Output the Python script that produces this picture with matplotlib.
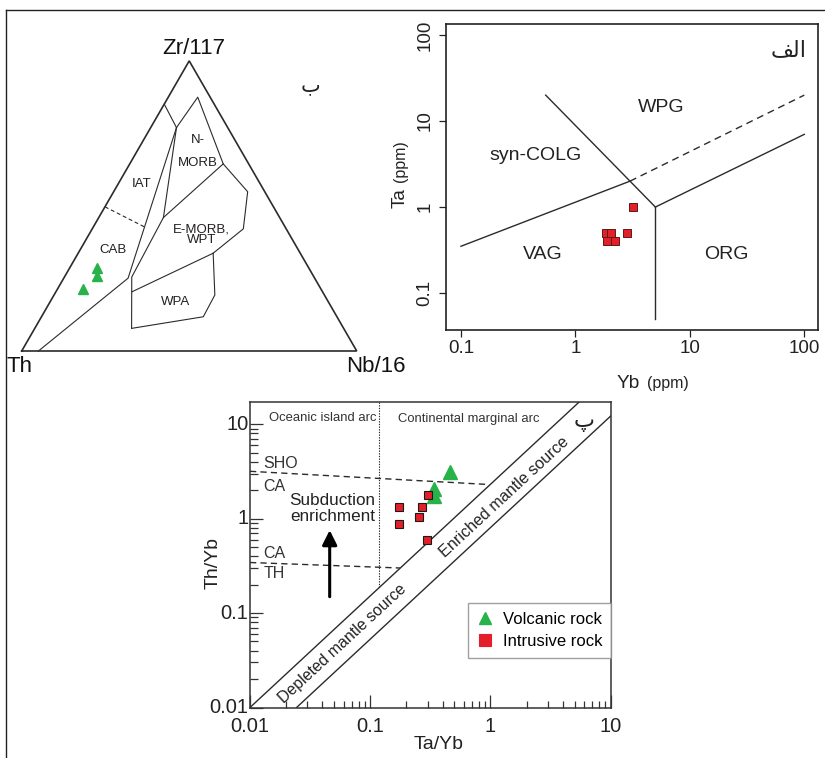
import matplotlib
matplotlib.use('Agg')
import matplotlib.pyplot as plt
import numpy as np
from matplotlib.lines import Line2D
from matplotlib.ticker import NullFormatter, NullLocator, FixedLocator

plt.rcParams['font.family'] = ['Liberation Sans', 'DejaVu Sans']

# ------------------------------------------------------------------ data
# (a) Pearce et al. Ta vs Yb discrimination (intrusive rocks)
yb_intrusive = [1.85, 2.05, 1.9, 2.24, 2.8, 3.18]
ta_intrusive = [0.5, 0.5, 0.4, 0.4, 0.5, 1.0]
pearce_solid_x = [[0.1, 3], [0.55, 5], [5, 100], [5, 5]]
pearce_solid_y = [[0.35, 2], [20, 1], [1, 7], [1, 0.05]]
pearce_dash_x = [3, 100]
pearce_dash_y = [2, 20]
pearce_ticks = [0.1, 1, 10, 100]
pearce_ticklabels = ['0.1', '1', '10', '100']

# (b) Th - Zr/117 - Nb/16 ternary (Wood 1980), vertices as (Th, Zr, Nb)
tern_vertices = {
    'A': (0.149, 0.851, 0.000), 'J': (0.153, 0.770, 0.077),
    'P': (0.037, 0.875, 0.088), 'Q': (0.076, 0.645, 0.279),
    'R': (0.051, 0.549, 0.400), 'S': (0.128, 0.421, 0.451),
    'T': (0.260, 0.337, 0.403), 'U': (0.347, 0.460, 0.193),
    'V': (0.544, 0.255, 0.201), 'W': (0.569, 0.204, 0.227),
    'X': (0.633, 0.078, 0.289), 'Y': (0.399, 0.118, 0.483),
    'Z': (0.327, 0.193, 0.480), 'D1': (0.557, 0.251, 0.192),
    'D0': (0.950, 0.000, 0.050), 'L': (0.503, 0.497, 0.000),
    'M': (0.415, 0.424, 0.161),
}
tern_solid_paths = [['A', 'J'], ['D0', 'D1', 'J'], ['J', 'P', 'Q', 'R', 'S', 'T'],
                    ['J', 'U', 'V', 'X'], ['Q', 'U'], ['W', 'T'], ['T', 'Z', 'Y', 'X']]
tern_dash_paths = [['L', 'M']]
tern_th = [0.633, 0.644, 0.710]
tern_zr = [0.286, 0.260, 0.213]
tern_nb = [0.081, 0.096, 0.077]

# (c) Th/Yb vs Ta/Yb
tayb_volc = [0.46, 0.336, 0.336]
thyb_volc = [3.08, 2.05, 1.73]
tayb_intr = [0.304, 0.173, 0.27, 0.253, 0.173, 0.294]
thyb_intr = [1.77, 1.32, 1.33, 1.04, 0.87, 0.59]
array_upper_x = [0.01, 5.5]
array_upper_y = [0.01, 17.3]
array_lower_x = [0.0244, 10]
array_lower_y = [0.01, 12.2]
sho_ca_x = [0.01, 0.95]
sho_ca_y = [3.17, 2.3]
ca_th_x = [0.01, 0.177]
ca_th_y = [0.343, 0.3]
arc_div_x = [0.118, 0.118]
arc_div_y = [17.3, 0.19]
c_ticks = [0.01, 0.1, 1, 10]
c_ticklabels = ['0.01', '0.1', '1', '10']

GREEN = '#27b24a'
RED = '#e3202a'
LINE = '#2b2b2b'

W, H = 825, 758
fig = plt.figure(figsize=(W / 100, H / 100), dpi=100)

# outer frame lines
fig.add_artist(Line2D([6 / W, 1], [1 - 10 / H, 1 - 10 / H], transform=fig.transFigure,
                      color='#222222', lw=1.0))
fig.add_artist(Line2D([6 / W, 6 / W], [0, 1 - 10 / H], transform=fig.transFigure,
                      color='#222222', lw=1.0))

# ------------------------------------------------------------------ (b) ternary
axt = fig.add_axes([0, 1 - 385 / H, 420 / W, 370 / H])
axt.set_xlim(-0.0648, 1.1889)
axt.set_ylim(-0.1015, 1.003)
axt.axis('off')


def tern_xy(th, zr, nb):
    s = th + zr + nb
    zr, nb = zr / s, nb / s
    return nb + zr / 2.0, zr * np.sqrt(3) / 2.0


tx, ty = zip(*[tern_xy(*v) for v in [(1, 0, 0), (0, 0, 1), (0, 1, 0), (1, 0, 0)]])
axt.plot(tx, ty, color=LINE, lw=1.2, solid_joinstyle='miter')
for path in tern_solid_paths:
    px, py = zip(*[tern_xy(*tern_vertices[k]) for k in path])
    axt.plot(px, py, color=LINE, lw=0.8)
for path in tern_dash_paths:
    px, py = zip(*[tern_xy(*tern_vertices[k]) for k in path])
    axt.plot(px, py, color=LINE, lw=0.8, ls=(0, (3.5, 2.5)))
sx, sy = zip(*[tern_xy(a, b, c) for a, b, c in zip(tern_th, tern_zr, tern_nb)])
axt.plot(sx, sy, ls='none', marker='^', ms=7.5, color=GREEN, mec=GREEN)

fs_field = 9.5
axt.text(0.358, 0.498, 'IAT', fontsize=fs_field, ha='center', va='center', color='#231f20')
axt.text(0.273, 0.301, 'CAB', fontsize=fs_field, ha='center', va='center', color='#231f20')
axt.text(0.527, 0.630, 'N-', fontsize=fs_field, ha='center', va='center', color='#231f20')
axt.text(0.527, 0.560, 'MORB', fontsize=fs_field, ha='center', va='center', color='#231f20')
axt.text(0.537, 0.346, 'E-MORB,\nWPT', fontsize=fs_field, ha='center', va='center',
         linespacing=0.85, color='#231f20')
axt.text(0.460, 0.147, 'WPA', fontsize=fs_field, ha='center', va='center', color='#231f20')
axt.text(0.514, 0.904, 'Zr/117', fontsize=16, ha='center', va='center', color='#111111')
axt.text(-0.045, -0.045, 'Th', fontsize=16, ha='left', va='center', color='#111111')
axt.text(1.057, -0.045, 'Nb/16', fontsize=16, ha='center', va='center', color='#111111')
axt.text(0.861, 0.794, '\u0628', fontsize=15, ha='center', va='center', color='#222222',
         family=['DejaVu Sans'])

# ------------------------------------------------------------------ (a) Ta vs Yb
axa = fig.add_axes([446 / W, 1 - 330 / H, 372 / W, 306 / H])
axa.set_xscale('log')
axa.set_yscale('log')
axa.set_xlim(0.074, 131.8)
axa.set_ylim(0.0372, 134.3)
for xs, ys in zip(pearce_solid_x, pearce_solid_y):
    axa.plot(xs, ys, color=LINE, lw=1.0)
axa.plot(pearce_dash_x, pearce_dash_y, color=LINE, lw=1.0, ls=(0, (5, 3.5)))
axa.plot(yb_intrusive, ta_intrusive, ls='none', marker='s', ms=6, color=RED,
         mec='#5c1a14', mew=0.7)
axa.xaxis.set_major_locator(FixedLocator(pearce_ticks))
axa.yaxis.set_major_locator(FixedLocator(pearce_ticks))
axa.set_xticklabels(pearce_ticklabels)
axa.set_yticklabels(pearce_ticklabels)
axa.xaxis.set_minor_locator(NullLocator())
axa.yaxis.set_minor_locator(NullLocator())
axa.tick_params(which='major', direction='out', length=5, width=0.9, labelsize=13.5,
                color='#222222', labelcolor='#222222')
axa.tick_params(axis='x', pad=2)
axa.tick_params(axis='y', pad=4)
for lab in axa.get_yticklabels():
    lab.set_rotation(90)
    lab.set_va('center')
for sp in axa.spines.values():
    sp.set_linewidth(1.2)
    sp.set_color('#222222')
for txt, x, y in [('WPG', 5.6, 14.5), ('syn-COLG', 0.45, 4.0), ('VAG', 0.52, 0.28),
                  ('ORG', 21, 0.28)]:
    axa.text(x, y, txt, fontsize=14, ha='center', va='center', color='#222222')
axa.text(0.459, -0.191, 'Yb', fontsize=13.7, transform=axa.transAxes, ha='left',
         va='baseline', color='#222222')
axa.text(0.540, -0.191, '(ppm)', fontsize=11.5, transform=axa.transAxes, ha='left',
         va='baseline', color='#222222')
axa.text(-0.110, 0.399, 'Ta', fontsize=13.7, transform=axa.transAxes, ha='left',
         va='baseline', rotation=90, rotation_mode='anchor', color='#222222')
axa.text(-0.110, 0.484, '(ppm)', fontsize=11.5, transform=axa.transAxes, ha='left',
         va='baseline', rotation=90, rotation_mode='anchor', color='#222222')
axa.text(0.922, 0.915, '\uFED2\uFEDF\uFE8D', fontsize=16, transform=axa.transAxes,
         ha='center', va='center', color='#222222', family=['DejaVu Sans'])

# ------------------------------------------------------------------ (c) Th/Yb vs Ta/Yb
axc = fig.add_axes([250 / W, 1 - 707.5 / H, 360.7 / W, 305.8 / H])
axc.set_xscale('log')
axc.set_yscale('log')
axc.set_xlim(0.01, 10)
axc.set_ylim(0.01, 17.3)
axc.plot(array_upper_x, array_upper_y, color=LINE, lw=1.0)
axc.plot(array_lower_x, array_lower_y, color=LINE, lw=1.0)
axc.plot(sho_ca_x, sho_ca_y, color=LINE, lw=1.0, ls=(0, (4.5, 3)))
axc.plot(ca_th_x, ca_th_y, color=LINE, lw=1.0, ls=(0, (4.5, 3)))
axc.plot(arc_div_x, arc_div_y, color=LINE, lw=0.8, ls=(0, (1.2, 1.2)))
axc.plot(tayb_volc, thyb_volc, ls='none', marker='^', ms=9.5, color=GREEN, mec=GREEN,
         label='Volcanic rock')
axc.plot(tayb_intr, thyb_intr, ls='none', marker='s', ms=6, color=RED, mec='#1a1a1a',
         mew=0.8, label='Intrusive rock')
axc.xaxis.set_major_locator(FixedLocator(c_ticks))
axc.yaxis.set_major_locator(FixedLocator(c_ticks))
axc.set_xticklabels(c_ticklabels)
axc.set_yticklabels(c_ticklabels)
axc.xaxis.set_minor_formatter(NullFormatter())
axc.yaxis.set_minor_formatter(NullFormatter())
axc.tick_params(which='both', direction='in', top=False, right=False, color='#333333',
                width=0.9)
axc.tick_params(which='major', length=9.5, labelsize=14.5, labelcolor='#222222')
axc.tick_params(which='minor', length=5.4)
axc.tick_params(axis='x', pad=7)
axc.tick_params(axis='y', pad=1)
for lab in axc.get_yticklabels():
    lab.set_va('center')
for sp in axc.spines.values():
    sp.set_linewidth(1.1)
    sp.set_color('#333333')
axc.set_xlabel('Ta/Yb', fontsize=14, color='#222222')
axc.set_ylabel('Th/Yb', fontsize=14, color='#222222')
axc.xaxis.set_label_coords(0.522, -0.093)
axc.yaxis.set_label_coords(-0.080, 0.4725)

axc.text(0.0405, 11.5, 'Oceanic island arc', fontsize=9.4, ha='center', va='center',
         color='#333333')
axc.text(0.656, 11.4, 'Continental marginal arc', fontsize=9.4, ha='center', va='center',
         color='#333333')
for txt, y in [('SHO', 3.86), ('CA', 2.21), ('CA', 0.43), ('TH', 0.265)]:
    axc.text(0.0129, y, txt, fontsize=11.5, ha='left', va='center', color='#333333')
axc.text(0.0484, 1.27, 'Subduction\nenrichment', fontsize=12.3, ha='center', va='center',
         linespacing=1.1, color='#222222')
axc.annotate('', xy=(0.046, 0.755), xytext=(0.046, 0.149),
             arrowprops=dict(arrowstyle='-|>', color='black', lw=2.2, mutation_scale=22,
                             shrinkA=0, shrinkB=0))
axc.text(0.0593, 0.0478, 'Depleted mantle source', fontsize=11.4, rotation=42.7,
         rotation_mode='anchor', ha='center', va='center', color='#222222')
axc.text(1.30, 1.67, 'Enriched mantle source', fontsize=11.6, rotation=42.7,
         rotation_mode='anchor', ha='center', va='center', color='#222222')
axc.text(5.96, 10.6, '\u067E', fontsize=16, ha='center', va='center', color='#222222',
         family=['DejaVu Sans'])

leg = axc.legend(loc='lower right', bbox_to_anchor=(1.0, 0.163), borderaxespad=0,
                 fontsize=12, frameon=True, fancybox=False, edgecolor='#8a8a8a',
                 handlelength=1.0, handletextpad=0.6, borderpad=0.5, labelspacing=0.45,
                 markerscale=1.0)
leg.get_frame().set_linewidth(1.0)
for h, ms in zip(leg.legend_handles, [9.0, 8.0]):
    h.set_markeredgecolor(h.get_color())
    h.set_markersize(ms)

fig.savefig('out.png', dpi=100)
